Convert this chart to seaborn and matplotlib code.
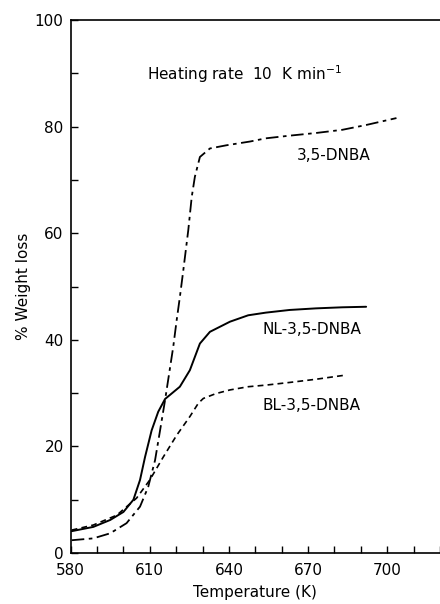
import numpy as np
import seaborn as sns
import matplotlib.pyplot as plt

sns.set_style("ticks")
plt.rcParams['font.family'] = ['DejaVu Sans']
plt.rcParams['text.color'] = 'black'
plt.rcParams['axes.labelcolor'] = 'black'

# data (temperature in K, % weight loss)
t_dnba = [580.4, 588.6, 595, 601.2, 606.3, 609.4, 612, 613.9, 615.8, 618.9, 620.2, 621.4,
          622.7, 624.6, 625.9, 627.1, 629, 632.8, 639.1, 648, 654, 663, 673, 683, 692, 703.5]
w_dnba = [2.4, 2.75, 3.7, 5.6, 8.7, 12.4, 17.4, 23, 28.7, 38.7, 43.7, 48,
          53, 60.6, 66.8, 70.6, 74.3, 75.9, 76.5, 77.2, 77.8, 78.3, 78.8, 79.4, 80.3, 81.6]

t_nl = [580.4, 588.6, 595, 600, 603.8, 606.3, 608.2, 610.7, 613.2, 615.8, 621.4, 625.2,
        629, 632.8, 640.4, 647.3, 654, 663, 673, 683, 692]
w_nl = [4.1, 4.9, 6.2, 7.7, 10, 13.7, 18, 23, 26.5, 28.9, 31.2, 34.3,
        39.3, 41.5, 43.4, 44.6, 45.1, 45.6, 45.9, 46.1, 46.2]

t_bl = [580.4, 588.6, 597.5, 605, 610, 615.1, 620.2, 625.2, 628.4, 630.3, 635, 640.4,
        647.3, 654, 663, 673, 684.5]
w_bl = [4.3, 5.25, 7.1, 10.3, 13.7, 18, 22.1, 25.6, 28.1, 29, 29.9, 30.6,
        31.2, 31.5, 32, 32.6, 33.4]

fig = plt.figure(figsize=(4.4, 6.04), dpi=100)
ax = fig.add_axes([0.1605, 0.0844, 0.8395, 0.8825])

sns.lineplot(x=t_dnba, y=w_dnba, ax=ax, color='black', lw=1.3, sort=False)
ax.lines[-1].set_dashes([7, 2.5, 2, 2.5])
sns.lineplot(x=t_nl, y=w_nl, ax=ax, color='black', lw=1.4, sort=False)
sns.lineplot(x=t_bl, y=w_bl, ax=ax, color='black', lw=1.2, sort=False)
ax.lines[-1].set_dashes([3.5, 2.5])

ax.set_xlim(580, 720)
ax.set_ylim(0, 100)
ax.set_xticks([580, 610, 640, 670, 700])
ax.set_xticks(np.arange(590, 721, 10), minor=True)
ax.set_yticks([0, 20, 40, 60, 80, 100])
ax.set_yticks([10, 30, 50, 70, 90], minor=True)
ax.tick_params(which='both', direction='in', length=5, width=1, labelsize=11, colors='black')
ax.tick_params(axis='x', pad=7)
ax.tick_params(axis='y', pad=5)
ax.spines['right'].set_visible(False)
for s in ['left', 'bottom', 'top']:
    ax.spines[s].set_linewidth(1.2)
    ax.spines[s].set_color('black')

ax.set_xlabel('Temperature (K)', fontsize=11, labelpad=5)
ax.set_ylabel('% Weight loss', fontsize=11, labelpad=3)

ax.text(0.47, 0.898, 'Heating rate  10  K min$^{-1}$', transform=ax.transAxes,
        fontsize=11, ha='center', va='center')
ax.annotate('3,5-DNBA', xy=(297, 604 - 155), xycoords='figure pixels', fontsize=11, va='center')
ax.annotate('NL-3,5-DNBA', xy=(263, 604 - 330), xycoords='figure pixels', fontsize=11, va='center')
ax.annotate('BL-3,5-DNBA', xy=(263, 604 - 405), xycoords='figure pixels', fontsize=11, va='center')

fig.savefig('out.png', dpi=100)
